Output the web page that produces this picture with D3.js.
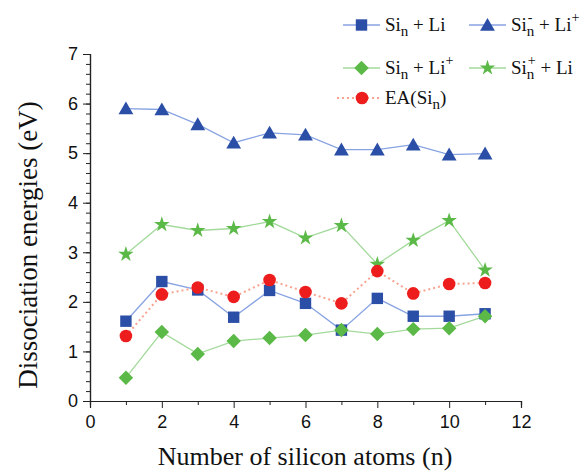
<!DOCTYPE html>
<html>
<head>
<meta charset="utf-8">
<script src="https://cdn.jsdelivr.net/npm/d3@7"></script>
<style>
  body { margin: 0; background: #fff; }
  svg { display: block; }
</style>
</head>
<body>
<svg id="root" width="587" height="472"></svg>
<script>
const root = d3.select('#root');

// data
const atoms = [1, 2, 3, 4, 5, 6, 7, 8, 9, 10, 11];
const siLi = [1.61, 2.41, 2.24, 1.69, 2.23, 1.97, 1.43, 2.07, 1.71, 1.71, 1.76];
const siMinusLiPlus = [5.90, 5.88, 5.58, 5.21, 5.41, 5.37, 5.07, 5.07, 5.17, 4.97, 4.99];
const siLiPlus = [0.47, 1.39, 0.95, 1.21, 1.27, 1.33, 1.43, 1.35, 1.45, 1.47, 1.71];
const siPlusLi = [2.96, 3.56, 3.44, 3.48, 3.62, 3.29, 3.54, 2.76, 3.24, 3.64, 2.64];
const eaSi = [1.31, 2.15, 2.29, 2.10, 2.44, 2.20, 1.97, 2.62, 2.17, 2.36, 2.38];
const xTicks = [0, 2, 4, 6, 8, 10, 12];
const yTicks = [0, 1, 2, 3, 4, 5, 6, 7];

const blue = '#2b4ea6', blueLine = '#87a3e2';
const green = '#5bb947', greenLine = '#a3da9b';
const red = '#ee1d1d', redLine = '#f8a38f';

const series = [
  { values: siLi, symbol: 'square', fill: blue, line: blueLine, dash: null },
  { values: siMinusLiPlus, symbol: 'triangle', fill: blue, line: blueLine, dash: null },
  { values: siLiPlus, symbol: 'diamond', fill: green, line: greenLine, dash: null },
  { values: siPlusLi, symbol: 'star', fill: green, line: greenLine, dash: null },
  { values: eaSi, symbol: 'circle', fill: red, line: redLine, dash: '2,3' }
];

const margin = { left: 90, top: 54, right: 66, bottom: 71 };
const width = 587 - margin.left - margin.right;
const height = 472 - margin.top - margin.bottom;

const x = d3.scaleLinear().domain([0, 12]).range([0, width]);
const y = d3.scaleLinear().domain([0, 7]).range([height, 0]);

const g = root.append('g').attr('transform', `translate(${margin.left},${margin.top})`);

const symbolPath = (name) => {
  if (name === 'square') return d3.symbol(d3.symbolSquare, 130)();
  if (name === 'triangle') return d3.symbol(d3.symbolTriangle, 95)();
  if (name === 'diamond') return d3.symbol(d3.symbolSquare, 105)();
  if (name === 'star') return d3.symbol(d3.symbolStar, 75)();
  return d3.symbol(d3.symbolCircle, 125)();
};
const symbolRot = name => name === 'diamond' ? ' rotate(45)' : '';
const symbolDy = name => name === 'triangle' ? 1.5 : 0;

// axes
const tickFont = '"Liberation Sans", Arial, sans-serif';

const yMinor = g.append('g').call(d3.axisLeft(y).tickValues(d3.range(0, 7.01, 0.2)).tickSize(4).tickFormat(''));
const yAxis = g.append('g').call(d3.axisLeft(y).tickValues(yTicks).tickSize(7).tickPadding(5).tickFormat(d3.format('d')));
const xMinor = g.append('g').attr('transform', `translate(0,${height})`)
  .call(d3.axisBottom(x).tickValues(d3.range(1, 12, 2)).tickSize(4).tickFormat(''));
const xAxis = g.append('g').attr('transform', `translate(0,${height})`)
  .call(d3.axisBottom(x).tickValues(xTicks).tickSize(7).tickPadding(7));

[yMinor, yAxis, xMinor, xAxis].forEach(a => {
  a.selectAll('.domain').attr('stroke', '#222').attr('stroke-width', 1.2);
  a.selectAll('line').attr('stroke', '#222').attr('stroke-width', 1);
  a.selectAll('text').attr('font-family', tickFont).attr('font-size', 18).attr('fill', '#111');
});

// lines and markers
const line = d3.line().x((d, i) => x(atoms[i])).y(d => y(d));

series.forEach(s => {
  g.append('path')
    .datum(s.values)
    .attr('fill', 'none')
    .attr('stroke', s.line)
    .attr('stroke-width', s.dash ? 2 : 1.3)
    .attr('stroke-dasharray', s.dash)
    .attr('d', line);
});

series.forEach(s => {
  g.append('g').selectAll('path')
    .data(s.values)
    .enter()
    .append('path')
    .attr('d', symbolPath(s.symbol))
    .attr('transform', (d, i) => `translate(${x(atoms[i])},${y(d) + symbolDy(s.symbol)})${symbolRot(s.symbol)}`)
    .attr('fill', s.fill);
});

// axis titles
const serif = '"Liberation Serif", "Times New Roman", serif';
root.append('text')
  .attr('x', 305).attr('y', 465)
  .attr('text-anchor', 'middle')
  .attr('font-family', serif).attr('font-size', 26).attr('fill', '#111')
  .text('Number of silicon atoms (n)');
root.append('text')
  .attr('transform', 'translate(37,245) rotate(-90)')
  .attr('text-anchor', 'middle')
  .attr('font-family', serif).attr('font-size', 27).attr('fill', '#111')
  .text('Dissociation energies (eV)');

// legend
// parts: plain text, or {sub, sup} stacked after the previous text
const legendItems = [
  { x: 343, y: 25, sym: 'square', s: series[0], parts: ['Si', { sub: 'n' }, ' + Li'] },
  { x: 469, y: 25, sym: 'triangle', s: series[1], parts: ['Si', { sub: 'n', sup: '-' }, ' + Li', { sup: '+' }] },
  { x: 343, y: 68, sym: 'diamond', s: series[2], parts: ['Si', { sub: 'n' }, ' + Li', { sup: '+' }] },
  { x: 469, y: 68, sym: 'star', s: series[3], parts: ['Si', { sub: 'n', sup: '+' }, ' + Li'] },
  { x: 337, y: 98, sym: 'circle', s: series[4], parts: ['EA(Si', { sub: 'n' }, ')'] }
];

const legend = root.append('g');
legendItems.forEach(it => {
  const lineEnd = it.sym === 'circle' ? 380 : it.x + 37;
  const mid = it.sym === 'circle' ? 362 : (it.x + lineEnd) / 2;
  legend.append('line')
    .attr('x1', it.x).attr('x2', lineEnd)
    .attr('y1', it.y).attr('y2', it.y)
    .attr('stroke', it.s.line)
    .attr('stroke-width', it.s.dash ? 2 : 1.3)
    .attr('stroke-dasharray', it.s.dash);
  legend.append('path')
    .attr('d', symbolPath(it.sym))
    .attr('transform', `translate(${mid},${it.y + symbolDy(it.sym)})${symbolRot(it.sym)}`)
    .attr('fill', it.s.fill);

  // one text per label, sub/superscripts as tspans
  const base = it.y + 6;
  const txt = legend.append('text')
    .attr('x', lineEnd + 5).attr('y', base)
    .attr('font-family', serif).attr('font-size', 19).attr('fill', '#111')
    .attr('xml:space', 'preserve')
    .style('white-space', 'pre');
  let cx = lineEnd + 5;
  const widthOf = sel => sel.node().getComputedTextLength();
  it.parts.forEach(p => {
    if (typeof p === 'string') {
      const t = txt.append('tspan').attr('x', cx).attr('y', base).text(p);
      cx += widthOf(t);
    } else {
      let w = 0;
      if (p.sub) {
        const t = txt.append('tspan').attr('x', cx).attr('y', base + 5)
          .attr('font-size', 15).text(p.sub);
        w = Math.max(w, widthOf(t));
      }
      if (p.sup) {
        const off = p.sub ? 1 : 0;
        const t = txt.append('tspan').attr('x', cx + off).attr('y', base - 9)
          .attr('font-size', 14).text(p.sup);
        w = Math.max(w, widthOf(t) + off);
      }
      cx += w;
    }
  });
});
</script>
</body>
</html>
